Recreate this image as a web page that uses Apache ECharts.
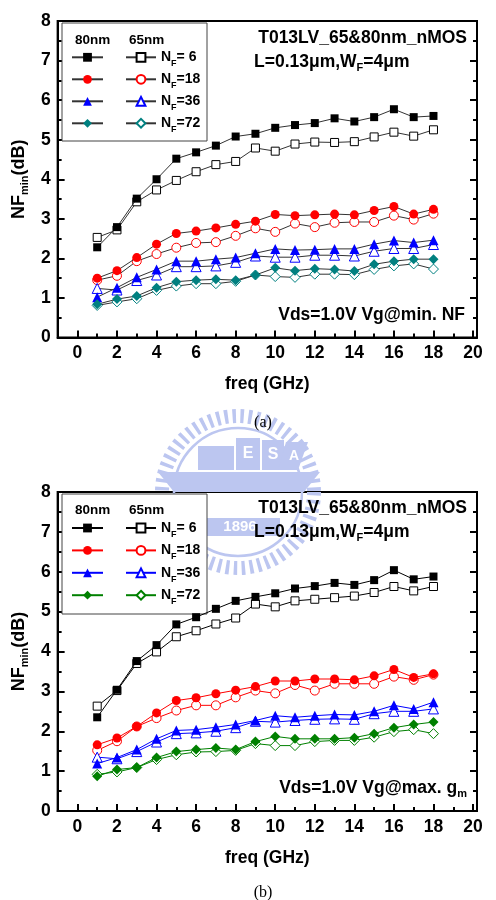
<!DOCTYPE html>
<html>
<head>
<meta charset="utf-8">
<script src="https://cdn.jsdelivr.net/npm/echarts@6/dist/echarts.min.js"></script>
<style>
html, body { margin: 0; padding: 0; background: #fff; }
#chart { width: 496px; height: 900px; }
</style>
</head>
<body>
<div id="chart"></div>
<script>
// frequency points (GHz)
const freq = [1, 2, 3, 4, 5, 6, 7, 8, 9, 10, 11, 12, 13, 14, 15, 16, 17, 18];

// (a) Vg @ min. NF
const a80nf6 = [2.28, 2.79, 3.51, 4.00, 4.52, 4.68, 4.85, 5.08, 5.15, 5.30, 5.37, 5.42, 5.54, 5.46, 5.57, 5.77, 5.57, 5.60];
const a65nf6 = [2.53, 2.72, 3.43, 3.73, 3.97, 4.19, 4.37, 4.45, 4.79, 4.71, 4.89, 4.94, 4.93, 4.95, 5.07, 5.19, 5.09, 5.25];
const a80nf18 = [1.50, 1.69, 2.02, 2.36, 2.63, 2.69, 2.77, 2.86, 2.94, 3.11, 3.08, 3.10, 3.12, 3.10, 3.21, 3.31, 3.12, 3.24];
const a65nf18 = [1.45, 1.56, 1.93, 2.11, 2.27, 2.39, 2.41, 2.57, 2.76, 2.67, 2.88, 2.79, 2.90, 2.92, 2.92, 3.08, 2.98, 3.13];
const a80nf36 = [1.02, 1.26, 1.52, 1.72, 1.93, 1.93, 1.98, 2.02, 2.13, 2.24, 2.21, 2.22, 2.24, 2.24, 2.36, 2.45, 2.40, 2.46];
const a65nf36 = [1.24, 1.20, 1.44, 1.58, 1.79, 1.79, 1.81, 1.90, 2.06, 2.03, 2.03, 2.08, 2.08, 2.06, 2.18, 2.25, 2.25, 2.35];
const a80nf72 = [0.84, 0.97, 1.05, 1.26, 1.41, 1.45, 1.47, 1.45, 1.58, 1.76, 1.69, 1.74, 1.72, 1.68, 1.85, 1.93, 1.98, 1.98];
const a65nf72 = [0.81, 0.90, 0.98, 1.19, 1.30, 1.36, 1.36, 1.42, 1.58, 1.54, 1.52, 1.60, 1.60, 1.59, 1.72, 1.81, 1.86, 1.73];

// (b) Vg @ max. gm
const b80nf6 = [2.35, 3.04, 3.76, 4.16, 4.68, 4.86, 5.07, 5.27, 5.37, 5.46, 5.58, 5.64, 5.72, 5.67, 5.79, 6.04, 5.81, 5.88];
const b65nf6 = [2.63, 3.02, 3.70, 3.99, 4.37, 4.52, 4.69, 4.84, 5.19, 5.12, 5.27, 5.31, 5.35, 5.39, 5.48, 5.63, 5.52, 5.63];
const b80nf18 = [1.66, 1.83, 2.12, 2.46, 2.77, 2.84, 2.94, 3.03, 3.12, 3.26, 3.26, 3.31, 3.31, 3.29, 3.39, 3.55, 3.35, 3.44];
const b65nf18 = [1.52, 1.75, 2.12, 2.33, 2.52, 2.65, 2.65, 2.85, 3.02, 2.95, 3.16, 3.02, 3.19, 3.19, 3.19, 3.37, 3.29, 3.42];
const b80nf36 = [1.19, 1.34, 1.54, 1.81, 2.02, 2.04, 2.10, 2.17, 2.27, 2.39, 2.35, 2.39, 2.42, 2.41, 2.50, 2.65, 2.56, 2.73];
const b65nf36 = [1.35, 1.31, 1.49, 1.73, 1.94, 1.96, 2.00, 2.09, 2.25, 2.23, 2.27, 2.30, 2.31, 2.30, 2.44, 2.50, 2.50, 2.56];
const b80nf72 = [0.87, 1.04, 1.09, 1.34, 1.49, 1.54, 1.58, 1.54, 1.74, 1.87, 1.81, 1.81, 1.81, 1.84, 1.94, 2.09, 2.17, 2.23];
const b65nf72 = [0.92, 0.98, 1.09, 1.29, 1.41, 1.48, 1.49, 1.52, 1.69, 1.64, 1.64, 1.74, 1.77, 1.77, 1.85, 1.99, 2.04, 1.94];

const nfLabels = ["N{s|F}= 6", "N{s|F}=18", "N{s|F}=36", "N{s|F}=72"];
const xMajor = [0, 2, 4, 6, 8, 10, 12, 14, 16, 18, 20];
const xMinor = [1, 3, 5, 7, 9, 11, 13, 15, 17, 19];

const FONT = "Liberation Sans, Arial, sans-serif";
const chart = echarts.init(document.getElementById("chart"), null, { renderer: "canvas" });

const gridTop = [21, 492];
const gridH = [316.5, 319];
const shift = [0, 470];

const mkLine = (name, g, vals, symbol, size, color, open, lineColor) => ({
    name: name,
    type: "line",
    xAxisIndex: g * 2,
    yAxisIndex: g * 2,
    data: freq.map((f, i) => [f, vals[i]]),
    symbol: symbol,
    symbolSize: size,
    showSymbol: true,
    lineStyle: { color: lineColor, width: 1 },
    itemStyle: open
        ? { color: "#fff", borderColor: color, borderWidth: 1 }
        : { color: color, borderColor: color, borderWidth: 0 },
    emphasis: { disabled: true },
    z: open ? 3 : 4,
});

const lineA = "#333";
const series = [
    mkLine("a80_6", 0, a80nf6, "rect", 8, "#000", false, lineA),
    mkLine("a65_6", 0, a65nf6, "rect", 8, "#000", true, lineA),
    mkLine("a80_18", 0, a80nf18, "circle", 9, "#ff0000", false, lineA),
    mkLine("a65_18", 0, a65nf18, "circle", 9, "#ff0000", true, lineA),
    mkLine("a80_36", 0, a80nf36, "triangle", 10, "#0000ff", false, lineA),
    mkLine("a65_36", 0, a65nf36, "triangle", 10, "#0000ff", true, lineA),
    mkLine("a80_72", 0, a80nf72, "diamond", 10, "#008080", false, lineA),
    mkLine("a65_72", 0, a65nf72, "diamond", 10, "#008080", true, lineA),
    mkLine("b80_6", 1, b80nf6, "rect", 8, "#000", false, "#000"),
    mkLine("b65_6", 1, b65nf6, "rect", 8, "#000", true, "#000"),
    mkLine("b80_18", 1, b80nf18, "circle", 9, "#ff0000", false, "#ff0000"),
    mkLine("b65_18", 1, b65nf18, "circle", 9, "#ff0000", true, "#ff0000"),
    mkLine("b80_36", 1, b80nf36, "triangle", 10, "#0000ff", false, "#0000ff"),
    mkLine("b65_36", 1, b65nf36, "triangle", 10, "#0000ff", true, "#0000ff"),
    mkLine("b80_72", 1, b80nf72, "diamond", 10, "#008000", false, "#008000"),
    mkLine("b65_72", 1, b65nf72, "diamond", 10, "#008000", true, "#008000"),
];

const tickLine = { color: "#000", width: 2 };
const labelStyle = { fontFamily: FONT, fontSize: 17.5, fontWeight: "bold", color: "#000" };

const xAxes = [];
const yAxes = [];
[0, 1].forEach((g) => {
    xAxes.push({
        gridIndex: g, type: "value", min: -1, max: 20.2, position: "bottom",
        axisLine: { show: true, onZero: false, lineStyle: tickLine },
        axisTick: { show: true, inside: true, length: 7, lineStyle: tickLine, customValues: xMajor },
        axisLabel: Object.assign({ margin: 7, customValues: xMajor }, labelStyle),
        splitLine: { show: false },
        name: "freq (GHz)", nameLocation: "middle", nameGap: 38,
        nameTextStyle: { fontFamily: FONT, fontSize: 17.5, fontWeight: "bold", color: "#000" },
    });
    xAxes.push({
        gridIndex: g, type: "value", min: -1, max: 20.2, position: "bottom",
        axisLine: { show: false },
        axisTick: { show: true, inside: true, length: 4, lineStyle: tickLine, customValues: xMinor },
        axisLabel: { show: false },
        splitLine: { show: false },
    });
    yAxes.push({
        gridIndex: g, type: "value", min: 0, max: 8, interval: 1, position: "left",
        axisLine: { show: true, onZero: false, lineStyle: tickLine },
        axisTick: { show: true, inside: true, length: 7, lineStyle: tickLine },
        minorTick: { show: true, splitNumber: 2, length: 4, lineStyle: tickLine },
        axisLabel: Object.assign({ margin: 7 }, labelStyle),
        splitLine: { show: false },
        name: "NF{s|min}(dB)", nameLocation: "middle", nameRotate: 90, nameGap: 27,
        nameTextStyle: {
            fontFamily: FONT, fontSize: 18, fontWeight: "bold", color: "#000", lineHeight: 22,
            rich: { s: { fontFamily: FONT, fontSize: 11, fontWeight: "bold", color: "#000", verticalAlign: "bottom", lineHeight: 12 } },
        },
    });
    yAxes.push({
        gridIndex: g, type: "value", min: 0, max: 8, interval: 1, position: "right",
        axisLine: { show: true, onZero: false, lineStyle: tickLine },
        axisTick: { show: true, inside: true, length: 7, lineStyle: tickLine },
        minorTick: { show: true, splitNumber: 2, length: 4, lineStyle: tickLine },
        axisLabel: { show: false },
        splitLine: { show: false },
    });
});

const legendText = {
    fontFamily: FONT, fontSize: 14, fontWeight: "bold", color: "#000", lineHeight: 22,
    rich: { s: { fontFamily: FONT, fontSize: 9, fontWeight: "bold", color: "#000", verticalAlign: "bottom", lineHeight: 9 } },
};
const legendTops = [46.3, 517];
const legends = [];
[0, 1].forEach((g) => {
    const p = g === 0 ? "a" : "b";
    const n80 = ["6", "18", "36", "72"].map((n) => p + "80_" + n);
    const n65 = ["6", "18", "36", "72"].map((n) => p + "65_" + n);
    legends.push({
        left: 71, top: legendTops[g], orient: "vertical", padding: 0, itemGap: g === 0 ? 0 : 0.4,
        itemWidth: 31, itemHeight: 11, selectedMode: false,
        data: n80, formatter: () => " ", textStyle: legendText,
    });
    legends.push({
        left: 125, top: legendTops[g], orient: "vertical", padding: 0, itemGap: g === 0 ? 0 : 0.4,
        itemWidth: 30, itemHeight: 11, selectedMode: false,
        data: n65, formatter: (name) => nfLabels[n65.indexOf(name)], textStyle: legendText,
    });
});

const boldText = (size) => ({ fontFamily: FONT, fontSize: size, fontWeight: "bold", fill: "#000" });
const subRich = { s: { fontFamily: FONT, fontSize: 11, fontWeight: "bold", fill: "#000", verticalAlign: "bottom", lineHeight: 11 } };

// faint NCTU watermark behind the charts
const wm = "#bcc6f0";
const logo = {
    type: "group", x: 238, y: 492, z: -5, silent: true,
    children: [
        { type: "circle", shape: { cx: 0, cy: 0, r: 76 }, style: { fill: "none", stroke: wm, lineWidth: 14, lineDash: [3.5, 4.5] } },
        { type: "circle", shape: { cx: 0, cy: 0, r: 64 }, style: { fill: "none", stroke: wm, lineWidth: 2.5 } },
        { type: "polygon", shape: { points: [[-80, -20], [82, -20], [66, 0], [-64, 0]] }, style: { fill: wm } },
        { type: "rect", shape: { x: -40, y: -46, width: 36, height: 24 }, style: { fill: wm } },
        { type: "rect", shape: { x: -2, y: -54, width: 24, height: 32 }, style: { fill: wm } },
        { type: "rect", shape: { x: 24, y: -52, width: 22, height: 30 }, style: { fill: wm } },
        { type: "polygon", shape: { points: [[48, -50], [70, -50], [60, -22], [40, -22]] }, style: { fill: wm } },
        { type: "text", x: 10, y: -38, style: { text: "E", font: "bold 16px " + FONT, fill: "#fff", align: "center", verticalAlign: "middle" } },
        { type: "text", x: 35, y: -37, style: { text: "S", font: "bold 16px " + FONT, fill: "#fff", align: "center", verticalAlign: "middle" } },
        { type: "text", x: 56, y: -36, style: { text: "A", font: "bold 14px " + FONT, fill: "#fff", align: "center", verticalAlign: "middle" } },
        { type: "rect", shape: { x: -40, y: 26, width: 82, height: 18 }, style: { fill: wm } },
        { type: "text", x: 2, y: 35, style: { text: "1896", font: "bold 15px " + FONT, fill: "#fff", align: "center", verticalAlign: "middle" } },
    ],
};

const graphics = [logo];
[0, 1].forEach((g) => {
    const dy = shift[g];
    graphics.push({
        type: "rect", z: 3, silent: true,
        shape: { x: 62, y: gridTop[g] + 2, width: 145, height: g === 0 ? 118 : 120 },
        style: { fill: "#fff", stroke: "#444", lineWidth: 1 },
    });
    graphics.push({ type: "text", z: 5, x: 75, y: 40.7 + dy, style: Object.assign({ text: "80nm", verticalAlign: "middle" }, boldText(13.5)) });
    graphics.push({ type: "text", z: 5, x: 129, y: 40.7 + dy, style: Object.assign({ text: "65nm", verticalAlign: "middle" }, boldText(13.5)) });
    graphics.push({ type: "text", z: 5, x: 467, y: 38 + dy, style: Object.assign({ text: "T013LV_65&80nm_nMOS", align: "right", verticalAlign: "middle" }, boldText(17.5)) });
    graphics.push({
        type: "text", z: 5, x: 254, y: 62 + dy,
        style: Object.assign({ text: "L=0.13μm,W{s|F}=4μm", align: "left", verticalAlign: "middle", lineHeight: 22, rich: subRich }, boldText(17.5)),
    });
    graphics.push({
        type: "text", z: 5, x: g === 0 ? 465 : 467, y: g === 0 ? 315 : 788,
        style: Object.assign({
            text: g === 0 ? "Vds=1.0V Vg@min. NF" : "Vds=1.0V Vg@max. g{s|m}",
            align: "right", verticalAlign: "middle", lineHeight: 22, rich: subRich,
        }, boldText(17.5)),
    });
    graphics.push({
        type: "text", z: 5, x: 263, y: g === 0 ? 423 : 893,
        style: { text: g === 0 ? "(a)" : "(b)", align: "center", verticalAlign: "middle", fontFamily: "Liberation Serif, Times New Roman, serif", fontSize: 16, fill: "#000" },
    });
});

const option = {
    animation: false,
    backgroundColor: "#fff",
    grid: [0, 1].map((g) => ({
        left: 56, width: 421, top: gridTop[g], height: gridH[g],
        show: true, borderColor: "#000", borderWidth: 2, backgroundColor: "transparent",
    })),
    xAxis: xAxes,
    yAxis: yAxes,
    legend: legends,
    graphic: graphics,
    series: series,
};

chart.setOption(option);
</script>
</body>
</html>
